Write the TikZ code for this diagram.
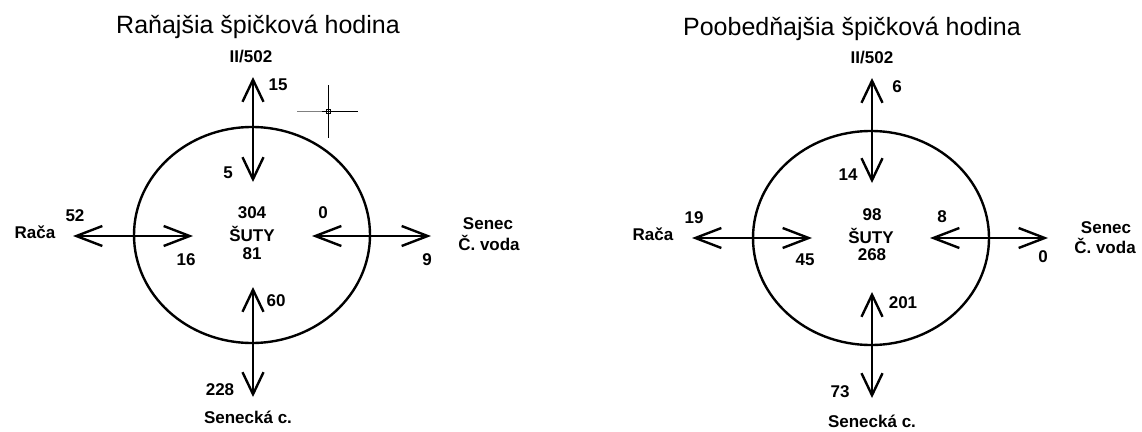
\documentclass[tikz,border=0pt]{standalone}
\usepackage{fontspec}
\setmainfont{Liberation Sans}
\usetikzlibrary{arrows.meta}
\begin{document}
\begin{tikzpicture}[x=1pt,y=-1pt,
  vflow/.style={line width=2.4pt,
    {Straight Barb[length=22pt,width=21pt,line width=2.4pt]}-{Straight Barb[length=22pt,width=21pt,line width=2.4pt]}},
  hflow/.style={line width=2.4pt,
    {Straight Barb[length=26pt,width=20pt,line width=2.4pt]}-{Straight Barb[length=26pt,width=20pt,line width=2.4pt]}},
  ring/.style={line width=2.4pt},
  ttl/.style={font=\fontsize{25}{30}\selectfont, anchor=base, inner sep=0pt},
  lbl/.style={font=\bfseries\fontsize{17}{20}\selectfont, anchor=base, inner sep=0pt},
  crosshair/.style={line width=1pt}
]
\useasboundingbox (0,0) rectangle (1142,431);

% ---------- morning peak hour ----------
\node[ttl] (a-title) at (258,33) {Raňajšia špičková hodina};
\draw[ring] (252,235) ellipse [x radius=118pt, y radius=108pt];

\coordinate (a-n1) at (253,77);  \coordinate (a-n2) at (253,182);
\coordinate (a-s1) at (253,287); \coordinate (a-s2) at (253,397);
\coordinate (a-w1) at (73,236);  \coordinate (a-w2) at (193,236);
\coordinate (a-e1) at (312,236); \coordinate (a-e2) at (431,236);
\draw[vflow] (a-n2) -- (a-n1);
\draw[vflow] (a-s1) -- (a-s2);
\draw[hflow] (a-w2) -- (a-w1);
\draw[hflow] (a-e1) -- (a-e2);

\node[lbl] (a-north) at (251,62) {II/502};
\node[lbl] (a-nout) at (278,90) {15};
\node[lbl] (a-nin) at (228,178) {5};
\node[lbl] (a-c1) at (252,218) {304};
\node[lbl] (a-c2) at (252,241) {ŠUTY};
\node[lbl] (a-c3) at (252,259) {81};
\node[lbl] (a-ein) at (323,218) {0};
\node[lbl] (a-wout) at (75,221) {52};
\node[lbl] (a-west) at (35,238) {Rača};
\node[lbl] (a-win) at (186,265) {16};
\node[lbl] (a-eout) at (427,265) {9};
\node[lbl] (a-east1) at (488,229) {Senec};
\node[lbl] (a-east2) at (489,250) {Č. voda};
\node[lbl] (a-sin) at (276,306) {60};
\node[lbl] (a-sout) at (220,395) {228};
\node[lbl] (a-south) at (248,423) {Senecká c.};

% cursor cross
\draw[crosshair] (328,85) -- (328,138);
\draw[crosshair, gray] (297,111) -- (322,111);
\draw[crosshair] (322,111) -- (358,111);
\draw[line width=0.8pt] (326,109) rectangle (330,113);

% ---------- afternoon peak hour ----------
\node[ttl] (b-title) at (852,35) {Poobedňajšia špičková hodina};
\draw[ring] (871,238) ellipse [x radius=118pt, y radius=107pt];

\coordinate (b-n1) at (872,78);  \coordinate (b-n2) at (872,183);
\coordinate (b-s1) at (872,292); \coordinate (b-s2) at (872,398);
\coordinate (b-w1) at (692,238); \coordinate (b-w2) at (812,238);
\coordinate (b-e1) at (930,238); \coordinate (b-e2) at (1048,238);
\draw[vflow] (b-n2) -- (b-n1);
\draw[vflow] (b-s1) -- (b-s2);
\draw[hflow] (b-w2) -- (b-w1);
\draw[hflow] (b-e1) -- (b-e2);

\node[lbl] (b-north) at (872,63) {II/502};
\node[lbl] (b-nout) at (897,92) {6};
\node[lbl] (b-nin) at (848,180) {14};
\node[lbl] (b-c1) at (872,220) {98};
\node[lbl] (b-c2) at (871,243) {ŠUTY};
\node[lbl] (b-c3) at (872,260) {268};
\node[lbl] (b-ein) at (942,222) {8};
\node[lbl] (b-wout) at (694,223) {19};
\node[lbl] (b-west) at (653,240) {Rača};
\node[lbl] (b-win) at (805,265) {45};
\node[lbl] (b-eout) at (1043,262) {0};
\node[lbl] (b-east1) at (1106,233) {Senec};
\node[lbl] (b-east2) at (1105,253) {Č. voda};
\node[lbl] (b-sin) at (903,308) {201};
\node[lbl] (b-sout) at (840,397) {73};
\node[lbl] (b-south) at (872,427) {Senecká c.};
\end{tikzpicture}
\end{document}
